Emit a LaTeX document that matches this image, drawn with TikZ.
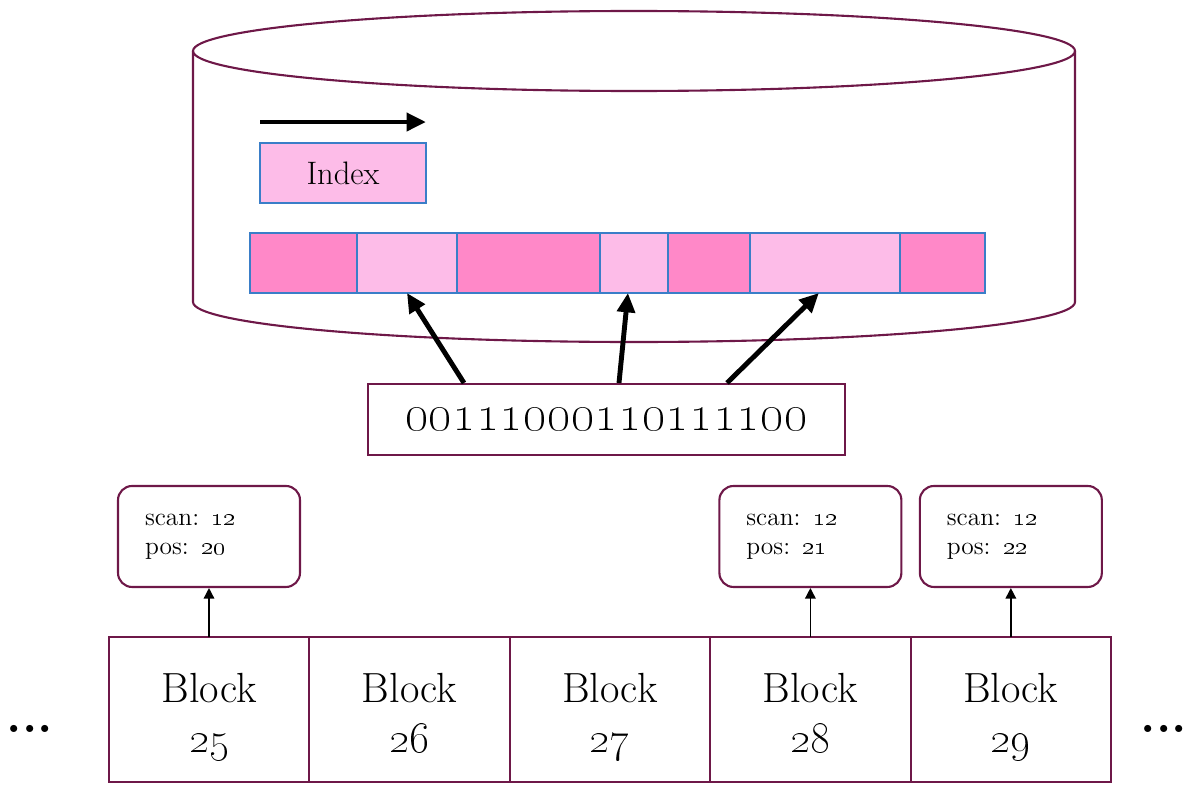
\documentclass[tikz,border=0pt]{standalone}
\usetikzlibrary{positioning,arrows.meta,calc}

\definecolor{wine}{RGB}{110,24,72}
\definecolor{segblue}{RGB}{58,126,200}
\definecolor{hotpink}{RGB}{255,136,200}
\definecolor{palepink}{RGB}{253,188,232}

\newcommand{\blocklabel}[1]{\rule{0pt}{26pt}Block\\\oldstylenums{#1}\rule[-6pt]{0pt}{6pt}}

\begin{document}
\begin{tikzpicture}[
  x=0.02cm, y=-0.02cm,
  outline/.style={draw=wine, line width=1.2pt},
  seg/.style={draw=segblue, line width=1.4pt, inner sep=0pt, outer sep=0pt, minimum height=1.2cm},
  hot/.style={seg, fill=hotpink},
  pale/.style={seg, fill=palepink},
  block/.style={outline, minimum width=4.01cm, minimum height=2.9cm, outer sep=0pt, inner sep=0pt, align=center, font=\fontsize{24}{28.4}\selectfont},
  info/.style={outline, rounded corners=8pt, minimum width=3.64cm, minimum height=2.02cm, inner xsep=0.54cm, text width=2.56cm, align=left, font=\fontsize{14.5}{16.5}\selectfont},
  bigarr/.style={-{Triangle[length=11pt,width=10pt]}, line width=2.8pt},
  smallarr/.style={-{Triangle[length=6pt,width=6pt]}, line width=0.8pt}
]
\useasboundingbox (0,0) rectangle (1195,784);

% Storage cylinder
\draw[outline] (634,51) ellipse [x radius=441, y radius=40];
\draw[outline] (193,51) -- (193,302) arc[start angle=180, end angle=0, x radius=441, y radius=40] -- (1075,51);

% Index and its segments
\node[pale, minimum width=3.32cm, font=\fontsize{18.5}{22}\selectfont] (idx) at (343,173) {Index};
\coordinate[above=0.42cm of idx.north west] (dirA);
\draw[bigarr] (dirA) -- (dirA -| idx.east);

\node[hot, minimum width=2.14cm] (s1) at (303.5,263) {};
\node[pale, minimum width=2cm, right=0pt of s1] (s2) {};
\node[hot, minimum width=2.86cm, right=0pt of s2] (s3) {};
\node[pale, minimum width=1.36cm, right=0pt of s3] (s4) {};
\node[hot, minimum width=1.64cm, right=0pt of s4] (s5) {};
\node[pale, minimum width=3cm, right=0pt of s5] (s6) {};
\node[hot, minimum width=1.7cm, right=0pt of s6] (s7) {};

% Bitmap
\node[outline, minimum width=9.54cm, minimum height=1.42cm, font=\fontsize{29}{34}\selectfont] (bits) at (606.5,419.5) {\oldstylenums{00111000110111100}};

\draw[bigarr] ($(bits.north west)+(97,0)$) -- (s2.south);
\draw[bigarr] ($(bits.north west)+(252,0)$) -- ($(s4.south)+(-6,0)$);
\draw[bigarr] ($(bits.north west)+(360,0)$) -- ($(s6.south)+(-6,0)$);

% Blocks
\node[block] (b25) at (209,709.5) {\blocklabel{25}};
\node[block, right=0pt of b25] (b26) {\blocklabel{26}};
\node[block, right=0pt of b26] (b27) {\blocklabel{27}};
\node[block, right=0pt of b27] (b28) {\blocklabel{28}};
\node[block, right=0pt of b28] (b29) {\blocklabel{29}};

\node[font=\fontsize{28}{30}\selectfont\bfseries] (dotsL) at (30,729) {...};
\node[font=\fontsize{28}{30}\selectfont\bfseries] (dotsR) at (1164,729) {...};

% Scan positions
\node[info, above=0.98cm of b25] (i25) {scan: \oldstylenums{12}\\pos: \oldstylenums{20}};
\node[info, above=0.98cm of b28] (i28) {scan: \oldstylenums{12}\\pos: \oldstylenums{21}};
\node[info, above=0.98cm of b29] (i29) {scan: \oldstylenums{12}\\pos: \oldstylenums{22}};

\draw[smallarr] (b25.north) -- (i25.south);
\draw[smallarr] (b28.north) -- (i28.south);
\draw[smallarr] (b29.north) -- (i29.south);
\end{tikzpicture}
\end{document}
